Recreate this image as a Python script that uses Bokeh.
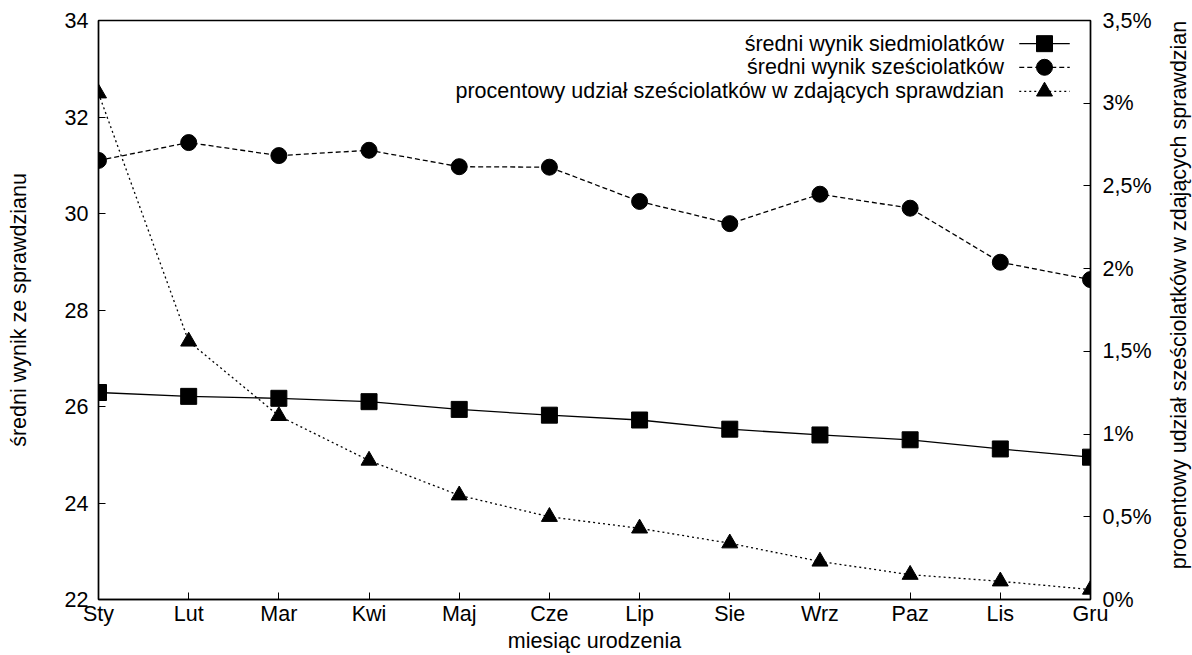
import math
from bokeh.plotting import figure
from bokeh.layouts import row
from bokeh.models import Range1d, LinearAxis, FixedTicker
from bokeh.core.properties import value
from bokeh.embed import file_html
from bokeh.resources import INLINE

# ---- data ----
months = ["Sty", "Lut", "Mar", "Kwi", "Maj", "Cze", "Lip", "Sie", "Wrz", "Paz", "Lis", "Gru"]
seven_year_olds = [26.29, 26.21, 26.17, 26.10, 25.94, 25.82, 25.72, 25.53, 25.41, 25.31, 25.12, 24.95]
six_year_olds = [31.10, 31.47, 31.20, 31.31, 30.97, 30.96, 30.25, 29.79, 30.40, 30.11, 28.99, 28.63]
six_share_pct = [3.06, 1.56, 1.11, 0.84, 0.63, 0.50, 0.43, 0.34, 0.23, 0.15, 0.11, 0.06]
left_ticks = [22, 24, 26, 28, 30, 32, 34]
right_ticks = [0, 0.5, 1, 1.5, 2, 2.5, 3, 3.5]
right_tick_labels = ["0%", "0,5%", "1%", "1,5%", "2%", "2,5%", "3%", "3,5%"]
legend_labels = ["średni wynik siedmiolatków", "średni wynik sześciolatków",
                 "procentowy udział sześciolatków w zdających sprawdzian"]
x_title = "miesiąc urodzenia"
y_title = "średni wynik ze sprawdzianu"
y2_title = "procentowy udział sześciolatków w zdających sprawdzian"

FONT = "Liberation Sans"
FS = "21.5px"
x = list(range(len(months)))

W_MAIN, W_SIDE, H = 1164, 28, 655
p = figure(width=W_MAIN, height=H, output_backend="svg", toolbar_location=None,
           x_range=Range1d(0, len(months) - 1), y_range=Range1d(22, 34),
           min_border_left=98, min_border_right=74, min_border_top=20, min_border_bottom=54)
p.extra_y_ranges = {"pct": Range1d(0, 3.5)}
p.xgrid.visible = False
p.ygrid.visible = False
p.outline_line_color = "black"
p.outline_line_width = 1.4
p.background_fill_color = "white"
p.border_fill_color = "white"

def style_axis(ax):
    ax.axis_line_color = "black"
    ax.axis_line_width = 1.4
    ax.major_tick_in = 7
    ax.major_tick_out = 0
    ax.major_tick_line_color = "black"
    ax.minor_tick_line_color = None
    ax.major_label_text_font = FONT
    ax.major_label_text_font_size = FS
    ax.major_label_text_color = "black"
    ax.axis_label_text_font = FONT
    ax.axis_label_text_font_size = FS
    ax.axis_label_text_font_style = "normal"
    ax.axis_label_text_color = "black"

xa = p.xaxis[0]
style_axis(xa)
xa.ticker = FixedTicker(ticks=x)
xa.major_label_overrides = {i: m for i, m in zip(x, months)}
xa.major_label_standoff = 2
xa.axis_label = x_title
xa.axis_label_standoff = 0

ya = p.yaxis[0]
style_axis(ya)
ya.ticker = FixedTicker(ticks=left_ticks)
ya.major_label_standoff = 10
ya.axis_label = y_title
ya.axis_label_standoff = 31

ra = LinearAxis(y_range_name="pct")
style_axis(ra)
ra.ticker = FixedTicker(ticks=right_ticks)
ra.major_label_overrides = {t: l for t, l in zip(right_ticks, right_tick_labels)}
ra.major_label_standoff = 12
p.add_layout(ra, "right")

LW = 1.3
# series
p.line(x, seven_year_olds, line_color="black", line_width=LW)
p.scatter(x, seven_year_olds, marker="square", size=16, color="black")
p.line(x, six_year_olds, line_color="black", line_width=LW, line_dash="5 3")
p.scatter(x, six_year_olds, marker="circle", size=16, color="black")
p.line(x, six_share_pct, line_color="black", line_width=LW, line_dash="2 3", y_range_name="pct")
p.scatter(x, six_share_pct, marker="triangle", size=16, color="black", y_range_name="pct")

# legend (top right, text right-aligned, sample to the right)
LEG_TEXT_X = 10.04
LEG_X0, LEG_X1, LEG_XM = 10.21, 10.77, 10.49
LEG_Y = [33.52, 33.03, 32.53]
p.text(x=[LEG_TEXT_X] * 3, y=LEG_Y, text=legend_labels, text_align="right",
       text_baseline="middle", text_font=value(FONT), text_font_size=FS, text_color="black")
dashes = ["solid", "5 3", "2 3"]
marks = ["square", "circle", "triangle"]
for yy, d, m in zip(LEG_Y, dashes, marks):
    p.segment(x0=[LEG_X0], y0=[yy], x1=[LEG_X1], y1=[yy], line_color="black",
              line_width=LW, line_dash=d)
    p.scatter([LEG_XM], [yy], marker=m, size=16, color="black")

# narrow side panel holding the right-axis title (reads bottom-to-top)
side = figure(width=W_SIDE, height=H, output_backend="svg", toolbar_location=None,
              x_range=Range1d(0, 1), y_range=Range1d(0, H),
              x_axis_location=None, y_axis_location=None, min_border=0)
side.xgrid.visible = False
side.ygrid.visible = False
side.outline_line_color = None
side.background_fill_color = "white"
side.border_fill_color = "white"
side.text(x=[0.5], y=[H - 310.5], text=[y2_title], angle=math.pi / 2,
          text_align="center", text_baseline="middle",
          text_font=value(FONT), text_font_size=FS, text_color="black")

layout = row(p, side, spacing=0)
open("out.html", "w").write(file_html(layout, INLINE))
